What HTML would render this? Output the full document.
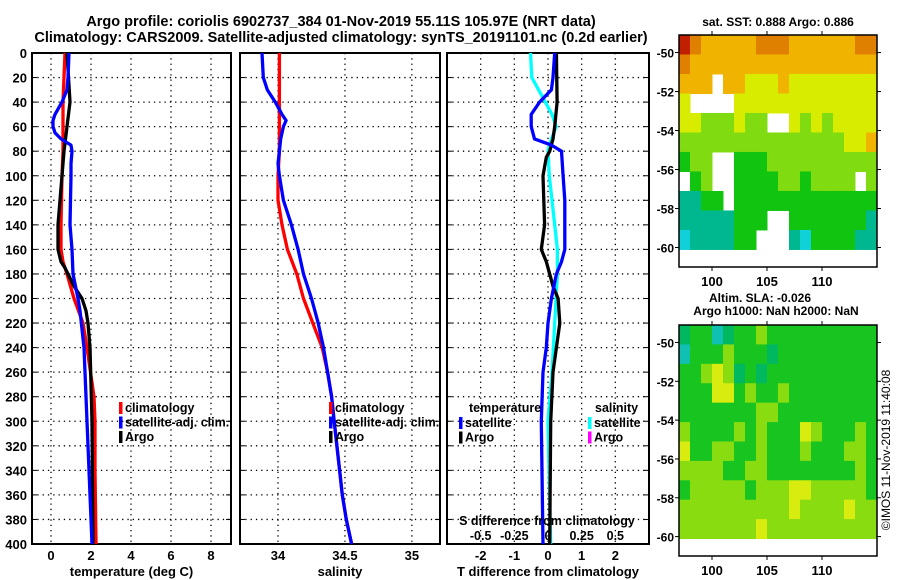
<!DOCTYPE html>
<html><head><meta charset="utf-8"><style>
body{margin:0;background:#fff}
svg{display:block}
text{font-family:"Liberation Sans",sans-serif;font-weight:bold;fill:#000}
</style></head><body>
<svg id="fig" width="900" height="580" viewBox="0 0 900 580" xmlns="http://www.w3.org/2000/svg">
<text x="341" y="26" font-size="14.5" text-anchor="middle">Argo profile: coriolis 6902737_384 01-Nov-2019 55.11S 105.97E (NRT data)</text>
<text x="341" y="42" font-size="14.5" text-anchor="middle">Climatology: CARS2009. Satellite-adjusted climatology: synTS_20191101.nc (0.2d earlier)</text>
<text x="778" y="26" font-size="12" text-anchor="middle">sat. SST: 0.888 Argo: 0.886</text>
<text x="760" y="302" font-size="12" text-anchor="middle">Altim. SLA: -0.026</text>
<text x="776" y="315" font-size="12" text-anchor="middle">Argo h1000: NaN h2000: NaN</text>
<text transform="translate(890,450) rotate(-90)" font-size="12" text-anchor="middle" style="font-weight:normal">©IMOS 11-Nov-2019 11:40:08</text>
<g id="plots"></g>
</svg>
<script>
// ---------- data ----------
const depthTicks=[0,20,40,60,80,100,120,140,160,180,200,220,240,260,280,300,320,340,360,380,400];
const tTicks=[0,2,4,6,8];
const sTicks=[34,34.5,35];
const dTTicks=[-2,-1,0,1,2];
const dSTicks=[-0.5,-0.25,0,0.25,0.5];
const dSTickLabels=['-0.5','-0.25','0','0.25','0.5'];

const climTDepth=[0,40,80,100,140,160,170,180,200,220,240,280,300,340,400];
const climT=[0.7,0.6,0.6,0.55,0.5,0.5,0.6,0.8,1.15,1.6,1.8,2.15,2.2,2.2,2.25];
const satTDepth=[0,20,30,40,50,55,60,65,70,75,80,90,100,140,160,180,200,210,240,280,320,360,400];
const satT=[0.9,0.85,0.8,0.55,0.2,0.1,0.1,0.2,0.5,1.0,1.05,1.0,1.0,0.95,1.05,1.1,1.35,1.45,1.65,1.75,1.85,1.95,2.05];
const argoTDepth=[0,40,60,80,100,140,160,170,175,180,190,200,210,220,240,300,400];
const argoT=[0.8,0.95,0.8,0.65,0.55,0.35,0.35,0.5,0.7,0.85,1.15,1.55,1.75,1.85,1.95,2.05,2.1];

const climSDepth=[0,80,100,120,140,160,180,200,220,240,260,280,300,320,340,360,380,400];
const climS=[34.01,34.01,34.0,34.0,34.03,34.07,34.14,34.19,34.26,34.33,34.37,34.4,34.42,34.44,34.46,34.48,34.51,34.55];
const satSDepth=[0,20,30,40,50,55,60,70,80,90,100,120,140,160,180,200,220,240,260,280,300,320,340,360,380,400];
const satS=[33.88,33.89,33.92,33.98,34.03,34.06,34.04,34.02,34.01,34.0,34.01,34.04,34.1,34.15,34.19,34.25,34.3,34.34,34.37,34.4,34.42,34.44,34.46,34.48,34.51,34.55];

const dSatTDepth=[0,20,30,40,50,60,70,75,80,100,120,140,160,170,180,200,220,240,260,300,400];
const dSatT=[0.2,0.15,0.1,-0.25,-0.5,-0.5,-0.4,0.1,0.4,0.45,0.5,0.5,0.5,0.4,0.25,0.1,0.0,-0.05,-0.15,-0.2,-0.15];
const dArgoTDepth=[0,40,60,70,80,85,100,140,160,170,180,190,200,220,240,260,300,400];
const dArgoT=[0.25,0.27,0.2,0.15,0.05,-0.05,-0.15,-0.1,-0.2,-0.05,0.05,0.15,0.3,0.35,0.25,0.15,0.08,0.05];
const dSatSDepth=[0,20,40,50,60,75,80,100,120,140,160,180,200,220,260,300,400];
const dSatS=[-0.13,-0.12,-0.02,0.03,0.06,0.01,0,0.01,0.03,0.05,0.07,0.07,0.06,0.05,0.03,0.0,0.02];

const lonTicks=[100,105,110];
const latTicks=[-50,-52,-54,-56,-58,-60];
// SST grid: rows from lat -49 southward (1 deg), cols from lon 97 (1 deg); -1 = no data
const sstGrid=[
[7,6,5,5,5,5,5,6,6,6,5,5,5,5,5,5,6,6],
[6,5,5,5,5,5,5,5,5,5,5,5,5,5,5,5,5,5],
[5,5,5,-1,5,5,4,4,4,5,4,4,4,4,4,4,4,4],
[4,-1,-1,-1,-1,4,4,4,4,4,4,4,4,4,4,4,4,4],
[4,4,3,3,3,4,3,3,-1,-1,4,3,4,3,4,4,4,4],
[3,3,3,3,3,3,3,3,3,3,3,3,3,3,3,4,4,5],
[2,3,3,-1,-1,2,2,2,3,3,3,3,3,3,3,3,3,3],
[-1,2,3,-1,-1,2,2,2,2,3,3,2,3,3,3,3,-1,3],
[1,1,2,2,-1,2,2,2,2,2,2,2,2,2,2,2,2,2],
[1,1,1,1,1,2,2,2,-1,-1,2,2,2,2,2,2,2,1],
[0,1,1,1,1,2,2,-1,-1,-1,1,0,2,2,2,2,1,1],
[-1,-1,-1,-1,-1,-1,-1,-1,-1,-1,-1,-1,-1,-1,-1,-1,-1,-1]];
const slaGrid=[
[1,2,2,0,1,2,2,3,2,2,2,2,2,2,2,2,2,2],
[0,2,2,2,3,2,2,2,1,2,2,2,2,2,2,2,2,2],
[2,2,3,4,3,1,2,1,2,2,2,2,2,2,2,2,2,2],
[2,2,2,4,4,2,3,2,2,3,2,2,2,2,2,2,2,2],
[2,2,2,2,2,2,2,3,3,2,2,2,2,2,2,2,2,2],
[3,2,2,2,2,3,2,3,2,2,2,4,3,2,2,2,3,2],
[4,2,2,3,3,2,2,3,2,2,2,3,2,2,2,3,3,2],
[3,3,3,3,2,2,3,3,2,2,2,2,2,2,2,2,3,2],
[2,3,3,3,3,3,2,3,3,3,4,4,3,3,3,3,3,2],
[3,3,3,3,3,3,3,3,3,3,4,3,3,3,3,4,3,3],
[3,3,3,3,3,3,3,4,3,3,3,3,3,3,3,3,3,3],
[-1,-1,-1,-1,-1,-1,-1,-1,-1,-1,-1,-1,-1,-1,-1,-1,-1,-1]];
const palette=['#10d0d8','#00b890','#10c410','#80dc10','#d8ec00','#f0b400','#e08000','#c02000'];
const slaPalette=['#10c0b0','#00b860','#18c420','#88dc10','#d8ec10'];

// ---------- drawing ----------
const NS='http://www.w3.org/2000/svg';
const root=document.getElementById('plots');
function el(tag,attrs,parent){const e=document.createElementNS(NS,tag);for(const k in attrs)e.setAttribute(k,attrs[k]);(parent||root).appendChild(e);return e;}
const yTop=53,yBot=544;
function yD(d){return yTop+(d)/400*(yBot-yTop);}
function txt(x,y,s,anchor,size,parent){const t=el('text',{x:x,y:y,'text-anchor':anchor||'middle','font-size':size||12},parent);t.textContent=s;return t;}

function panel(name,x0,x1,xmin,xmax,ticks,tickLabels,xlabel,showY){
  const g=el('g',{});
  
  
  const sx=v=>x0+(v-xmin)/(xmax-xmin)*(x1-x0);
  depthTicks.forEach((d,i)=>{
    if(i>0&&i<depthTicks.length-1){const l=el('line',{x1:x0,x2:x1,y1:yD(d),y2:yD(d),stroke:'#000','stroke-width':1.3,'stroke-dasharray':'1.3 4'},g);}
    el('line',{x1:x0,x2:x0+5,y1:yD(d),y2:yD(d),stroke:'#000','stroke-width':1},g);
    el('line',{x1:x1-5,x2:x1,y1:yD(d),y2:yD(d),stroke:'#000','stroke-width':1},g);
    if(showY){const t=txt(x0-5,yD(d)+5,String(d),'end',13,g);}
  });
  ticks.forEach((v,i)=>{
    const X=sx(v);
    const l=el('line',{x1:X,x2:X,y1:yTop,y2:yBot,stroke:'#000','stroke-width':1.3,'stroke-dasharray':'1.3 4'},g);
    
    
    const t=txt(X,560,tickLabels[i],'middle',13,g);
    
    
  });
  const r=el('rect',{x:x0,y:yTop,width:x1-x0,height:yBot-yTop,fill:'none',stroke:'#000','stroke-width':2},g);
  
  
  const t=txt((x0+x1)/2,576,xlabel,'middle',13,g);
  
  
  return {g,sx};
}
function line(p,name,depths,vals,color,scale){
  const pts=depths.map((d,i)=>p.sx(vals[i]*(scale||1)).toFixed(1)+','+yD(d).toFixed(1)).join(' ');
  const l=el('polyline',{points:pts,fill:'none',stroke:color,'stroke-width':3.3,'stroke-linejoin':'round'},p.g);
  
  
}
function legend(p,x,y,items){
  items.forEach((it,i)=>{
    const r=el('rect',{x:x,y:y+i*14.5-10,width:3.5,height:12,fill:it[1]},p.g);
    
    
    const t=txt(x+6,y+i*14.5,it[0],'start',12.5,p.g);
    
    
  });
}
// panel 1 temperature
const p1=panel('temperature-panel',32,231,-0.95,9.0,tTicks,tTicks.map(String),'temperature (deg C)',true);
line(p1,'temperature-climatology-line',climTDepth,climT,'#f00');
line(p1,'temperature-argo-line',argoTDepth,argoT,'#000');
line(p1,'temperature-satellite-line',satTDepth,satT,'#00f');
legend(p1,119,412,[['climatology','#f00'],['satellite-adj. clim.','#00f'],['Argo','#000']]);
// panel 2 salinity
const p2=panel('salinity-panel',240,440,33.716,35.21,sTicks,sTicks.map(String),'salinity',false);
line(p2,'salinity-climatology-line',climSDepth,climS,'#f00');
line(p2,'salinity-satellite-line',satSDepth,satS,'#00f');
legend(p2,329,412,[['climatology','#f00'],['satellite-adj. clim.','#00f'],['Argo','#000']]);
// panel 3 differences
const p3=panel('difference-panel',447,649,-3,3,dTTicks,dTTicks.map(String),'T difference from climatology',false);
line(p3,'s-diff-satellite-line',dSatSDepth,dSatS,'#0ff',4);
line(p3,'t-diff-argo-line',dArgoTDepth,dArgoT,'#000');
line(p3,'t-diff-satellite-line',dSatTDepth,dSatT,'#00f');
{let t=txt(469,412,'temperature','start',12.5,p3.g);
 t=txt(595,412,'salinity','start',12.5,p3.g);}
legend(p3,459,427,[['satellite','#00f'],['Argo','#000']]);
legend(p3,588,427,[['satellite','#0ff'],['Argo','#f0f']]);
{let t=txt(547,525,'S difference from climatology','middle',12.5,p3.g);}
dSTicks.forEach((v,i)=>{const t=txt(p3.sx(v*4),540,dSTickLabels[i],'middle',12.5,p3.g);});

// maps
function map(name,grid,pal,y0,y1,latTop){
  const x0=679,x1=877,lonMin=97,lonMax=115,latMin=-61;
  const g=el('g',{});
  
  
  const sx=lo=>x0+(lo-lonMin)/(lonMax-lonMin)*(x1-x0);
  const sy=la=>y0+(latTop-la)/(latTop-latMin)*(y1-y0);
  grid.forEach((row,r)=>row.forEach((v,c)=>{
    if(v<0)return;
    const la=latTop-r, lo=lonMin+c;
    const ya=Math.max(sy(la),y0), yb=sy(la-1);
    const cell=el('rect',{x:sx(lo),y:ya,width:sx(lo+1)-sx(lo)+0.5,height:yb-ya+0.5,fill:pal[v]},g);
    
    
  }));
  const fr=el('rect',{x:x0,y:y0,width:x1-x0,height:y1-y0,fill:'none',stroke:'#000','stroke-width':1.5},g);
  
  
  latTicks.forEach(la=>{
    el('line',{x1:x0-4,x2:x0,y1:sy(la),y2:sy(la),stroke:'#000'},g);
    el('line',{x1:x1,x2:x1+4,y1:sy(la),y2:sy(la),stroke:'#000'},g);
    const t=txt(x0-5,sy(la)+5,String(la),'end',12,g);
    
    
  });
  lonTicks.forEach(lo=>{
    el('line',{x1:sx(lo),x2:sx(lo),y1:y1,y2:y1+4,stroke:'#000'},g);
    el('line',{x1:sx(lo),x2:sx(lo),y1:y0-4,y2:y0,stroke:'#000'},g);
    const t=txt(sx(lo),y1+19,String(lo),'middle',13,g);
    
    
  });
}
map('sst-map',sstGrid,palette,35,267,-49.1);
map('sla-map',slaGrid,slaPalette,325,556,-49.1);
</script>
</body></html>
